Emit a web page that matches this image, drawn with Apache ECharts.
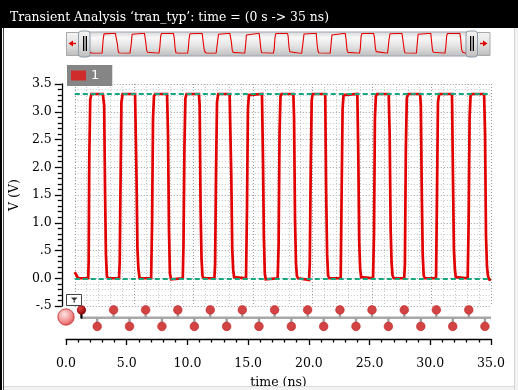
<!DOCTYPE html>
<html><head><meta charset="utf-8">
<script src="https://cdn.jsdelivr.net/npm/echarts@6/dist/echarts.min.js"></script>
<style>html,body{margin:0;padding:0;background:#fff}#c{width:518px;height:390px}</style>
</head><body><div id="c"></div>
<script>
// ---- data ----
const titleText = 'Transient Analysis \u2018tran_typ\u2019: time = (0 s -> 35 ns)';
const seriesName = '1';
const xTicks = [0, 5, 10, 15, 20, 25, 30, 35];
const yTickLabels = {'3.5':'3.5','3':'3.0','2.5':'2.5','2':'2.0','1.5':'1.5','1':'1.0','0.5':'.5','0':'0.0','-0.5':'-.5'};
const refLevels = [3.32, 0];
const waveTime = [
 0.00,0.10,0.18,0.28,
 1.13,1.17,1.22,1.30,1.40,
 2.36,2.40,2.47,2.55,2.62,2.70,2.80,
 3.72,3.78,3.84,3.92,4.02,
 5.07,5.11,5.19,5.27,5.35,5.45,
 6.42,6.50,6.58,6.66,6.76,
 7.76,7.84,7.92,8.00,8.10,8.20,
 9.08,9.14,9.22,9.30,9.40,
 10.44,10.50,10.58,10.66,10.74,10.84,
 11.74,11.80,11.88,11.96,12.06,
 13.02,13.08,13.16,13.24,13.32,13.40,13.50,
 14.40,14.48,14.56,14.64,14.72,
 15.74,15.82,15.90,15.98,16.06,16.14,
 17.06,17.14,17.22,17.30,17.38,
 18.38,18.44,18.52,18.60,18.68,18.78,
 19.70,19.76,19.84,19.92,20.00,
 21.06,21.14,21.22,21.30,21.40,
 22.36,22.44,22.52,22.60,22.70,
 23.76,23.84,23.92,24.00,24.08,24.18,
 25.08,25.16,25.24,25.32,25.42,
 26.40,26.48,26.56,26.64,26.72,26.82,
 27.70,27.76,27.84,27.92,28.02,
 29.04,29.10,29.18,29.26,29.34,29.44,
 30.38,30.46,30.54,30.64,
 31.72,31.80,31.88,31.96,32.04,32.14,
 33.04,33.12,33.20,33.28,33.38,
 34.42,34.50,34.58,34.66,34.74,34.84,35.00
];
const waveVolt = [
 0.11,0.09,0.04,0.00,
 0.00,0.30,2.17,3.22,3.32,
 3.32,3.35,3.12,1.51,0.43,0.04,0.00,
 0.00,0.30,1.55,3.17,3.32,
 3.32,3.33,1.84,0.53,0.17,0.00,
 0.00,1.00,2.89,3.28,3.32,
 3.32,2.59,0.88,0.08,-0.02,0.00,
 0.00,0.59,2.35,3.24,3.32,
 3.32,3.12,1.24,0.34,0.04,0.00,
 0.00,0.25,1.96,3.17,3.32,
 3.32,3.35,1.85,0.53,0.15,0.02,0.00,
 0.00,1.24,3.05,3.30,3.32,
 3.32,2.23,0.75,0.08,-0.02,0.00,
 0.00,0.59,2.65,3.28,3.32,
 3.32,2.89,1.06,0.27,0.04,0.00,
 -0.03,0.25,1.96,3.20,3.32,
 3.32,1.51,0.43,0.05,0.00,
 0.00,1.55,3.05,3.30,3.32,
 3.32,2.23,0.64,0.16,0.02,0.00,
 0.00,0.79,2.89,3.28,3.32,
 3.32,2.59,0.89,0.28,0.05,0.00,
 0.00,0.25,2.33,3.24,3.32,
 3.32,3.12,1.51,0.41,0.05,0.00,
 0.00,1.55,3.17,3.32,
 3.32,1.85,0.53,0.17,0.02,0.00,
 0.00,1.01,2.89,3.28,3.32,
 3.32,2.59,0.76,0.22,0.05,-0.02,-0.03
];
const risingEdges = [1.27, 3.92, 6.56, 9.21, 11.88, 14.52, 17.18, 19.90, 22.56, 25.20, 27.86, 30.50, 33.17];
const fallingEdges = [2.57, 5.23, 7.90, 10.57, 13.23, 15.89, 18.56, 21.22, 23.88, 26.55, 29.22, 31.85, 34.50];

// ---- build ----
const wave = waveTime.map((t, i) => [t, waveVolt[i]]);
const events = risingEdges.map((t, i) => [t, 0, i === 0 ? 1 : 0]).concat(fallingEdges.map(t => [t, 1, 0]));
const ROW_UP = 4, ROW_LINE = 12, ROW_DOWN = 21;
const serif = 'DejaVu Serif';
const chart = echarts.init(document.getElementById('c'), null, {renderer: 'canvas'});

function vgrad(stops) {
  return new echarts.graphic.LinearGradient(0, 0, 0, 1, stops.map((c, i) => ({offset: c[0], color: c[1]})));
}
const btnGrad = () => vgrad([[0, '#f4f4f4'], [0.5, '#e2e2e2'], [1, '#bcbcbc']]);
const bodyGrad = () => vgrad([[0, '#d6d6d6'], [0.25, '#f8f8f8'], [0.55, '#e6e6e6'], [1, '#bdbdbd']]);

const option = {
  animation: false,
  backgroundColor: '#ffffff',
  legend: {
    data: [{name: seriesName, icon: 'rect', itemStyle: {color: '#d02c2c'}}],
    left: 67, top: 65, orient: 'horizontal',
    backgroundColor: '#858585', borderRadius: 0,
    padding: [4, 13, 4, 4], itemWidth: 15, itemHeight: 10,
    textStyle: {color: '#ffffff', fontSize: 13, fontFamily: 'DejaVu Sans'},
    selectedMode: false
  },
  grid: [
    {left: 66, right: 27, top: 84, height: 222},
    {left: 66, right: 27, top: 306, height: 34},
    {left: 90, right: 52, top: 33.3, height: 20}
  ],
  xAxis: [
    {gridIndex: 0, type: 'value', min: 0, max: 35, interval: 5,
     axisLine: {show: false}, axisTick: {show: false}, axisLabel: {show: false},
     splitLine: {show: true, lineStyle: {color: '#9a9a9a', type: [1, 2], width: 1}},
     minorTick: {show: false, splitNumber: 5},
     minorSplitLine: {show: true, lineStyle: {color: '#c4c4c4', type: [1, 2], width: 1}}},
    {gridIndex: 1, type: 'value', min: 0, max: 35, interval: 5,
     axisLine: {show: true, onZero: false, lineStyle: {color: '#000', width: 1.3}},
     axisTick: {show: true, inside: false, length: 6, lineStyle: {color: '#000', width: 1.3}},
     minorTick: {show: true, splitNumber: 5, length: 3.5, lineStyle: {color: '#000', width: 1.3}},
     axisLabel: {show: true, margin: 18, color: '#000', fontSize: 12.5, fontFamily: serif,
       formatter: v => v.toFixed(1)},
     splitLine: {show: false},
     name: 'time (ns)', nameLocation: 'middle', nameGap: 37,
     nameTextStyle: {color: '#000', fontSize: 12.5, fontFamily: serif}},
    {gridIndex: 2, type: 'value', min: 0, max: 35, show: false}
  ],
  yAxis: [
    {gridIndex: 0, type: 'value', min: -0.5, max: 3.5, interval: 0.5, offset: 13,
     axisLine: {show: true, onZero: false, lineStyle: {color: '#000', width: 1.3}},
     axisTick: {show: true, length: 7, lineStyle: {color: '#000', width: 1.3}},
     minorTick: {show: true, splitNumber: 5, length: 4, lineStyle: {color: '#000', width: 1.3}},
     axisLabel: {margin: 10, color: '#000', fontSize: 12.5, fontFamily: serif,
       formatter: v => yTickLabels[String(Math.round(v * 10) / 10)]},
     splitLine: {show: true, lineStyle: {color: '#9a9a9a', type: [1, 2], width: 1}},
     minorSplitLine: {show: true, lineStyle: {color: '#c4c4c4', type: [1, 2], width: 1}},
     name: 'V (V)', nameLocation: 'middle', nameGap: 38,
     nameTextStyle: {color: '#000', fontSize: 12.5, fontFamily: serif}},
    {gridIndex: 1, type: 'value', min: 0, max: 34, inverse: true, show: false},
    {gridIndex: 2, type: 'value', min: 0, max: 3.32, show: false}
  ],
  series: [
    {name: seriesName, type: 'line', xAxisIndex: 0, yAxisIndex: 0, data: wave,
     showSymbol: false, symbol: 'none', z: 3,
     lineStyle: {color: '#e20000', width: 2.7, join: 'miter'}, itemStyle: {color: '#e20000'}},
    {name: 'ref', type: 'line', xAxisIndex: 0, yAxisIndex: 0, data: [], z: 5,
     markLine: {silent: true, symbol: 'none', label: {show: false}, animation: false,
       lineStyle: {color: '#18a67e', type: [5, 3], width: 2},
       data: refLevels.map(v => ({yAxis: v}))}},
    {name: 'busline', type: 'line', xAxisIndex: 1, yAxisIndex: 1, z: 2,
     data: [[risingEdges[0], ROW_LINE], [35, ROW_LINE]], showSymbol: false, symbol: 'none',
     lineStyle: {color: '#a8a8a8', width: 2.5}},
    {name: 'events', type: 'custom', xAxisIndex: 1, yAxisIndex: 1, z: 4, data: events,
     renderItem: function (params, api) {
       const t = api.value(0), dir = api.value(1), first = api.value(2);
       const p = api.coord([t, dir ? ROW_DOWN : ROW_UP]);
       const b = api.coord([t, ROW_LINE]);
       if (first) {
         return {type: 'group', children: [
           {type: 'line', shape: {x1: p[0], y1: p[1], x2: b[0], y2: b[1] + 1}, style: {stroke: '#000', lineWidth: 2.2}},
           {type: 'circle', shape: {cx: p[0], cy: p[1], r: 4.6},
            style: {fill: new echarts.graphic.RadialGradient(0.35, 0.35, 0.7, [{offset: 0, color: '#e04040'}, {offset: 1, color: '#8a0000'}])}}
         ]};
       }
       return {type: 'group', children: [
         {type: 'line', shape: {x1: p[0], y1: p[1], x2: b[0], y2: b[1]}, style: {stroke: '#a0a0a0', lineWidth: 2.4}},
         {type: 'circle', shape: {cx: p[0], cy: p[1], r: 4.3}, style: {fill: '#d24444', stroke: '#c02020', lineWidth: 0.6}}
       ]};
     }},
    {name: 'overview', type: 'line', xAxisIndex: 2, yAxisIndex: 2, data: wave, z: 6,
     showSymbol: false, symbol: 'none', lineStyle: {color: '#e80000', width: 1.1}}
  ],
  graphic: [
    {type: 'rect', shape: {x: 0, y: 0, width: 518, height: 28}, style: {fill: '#000'}, z: 0},
    {type: 'text', x: 10, y: 18, style: {text: titleText, fill: '#fff', font: '12.4px "DejaVu Serif"', textVerticalAlign: 'middle', verticalAlign: 'middle'}, z: 1},
    {type: 'rect', shape: {x: 0, y: 28, width: 2, height: 362}, style: {fill: '#000'}, z: 1},
    {type: 'rect', shape: {x: 3, y: 28, width: 1, height: 362}, style: {fill: '#444'}, z: 1},
    {type: 'rect', shape: {x: 514, y: 28, width: 1, height: 362}, style: {fill: '#d4d4d4'}, z: 1},
    {type: 'rect', shape: {x: 515, y: 28, width: 3, height: 362}, style: {fill: '#f2f2f2'}, z: 1},
    {type: 'rect', shape: {x: 4, y: 386, width: 510, height: 1}, style: {fill: '#dcdcdc'}, z: 1},
    {type: 'rect', shape: {x: 4, y: 387, width: 510, height: 3}, style: {fill: '#f2f2f2'}, z: 1},
    {type: 'rect', shape: {x: 86, y: 32, width: 384, height: 24, r: 3}, style: {fill: bodyGrad(), stroke: '#9aa6b2', lineWidth: 1}, z: 1},
    {type: 'rect', shape: {x: 66.5, y: 32.5, width: 13, height: 23}, style: {fill: btnGrad(), stroke: '#a8a8a8', lineWidth: 1}, z: 2},
    {type: 'polygon', shape: {points: [[68.5, 43.5], [73, 40.5], [73, 46.5]]}, style: {fill: '#e00000'}, z: 3},
    {type: 'rect', shape: {x: 73, y: 42.8, width: 3, height: 1.4}, style: {fill: '#e00000'}, z: 3},
    {type: 'rect', shape: {x: 78.5, y: 31, width: 11.5, height: 26, r: 3}, style: {fill: btnGrad(), stroke: '#8c9aa8', lineWidth: 1}, z: 3},
    {type: 'rect', shape: {x: 83, y: 36, width: 1.3, height: 15}, style: {fill: '#000'}, z: 4},
    {type: 'rect', shape: {x: 85.7, y: 36, width: 1.3, height: 15}, style: {fill: '#000'}, z: 4},
    {type: 'rect', shape: {x: 466, y: 31, width: 11.5, height: 26, r: 3}, style: {fill: btnGrad(), stroke: '#8c9aa8', lineWidth: 1}, z: 3},
    {type: 'rect', shape: {x: 470, y: 36, width: 1.3, height: 15}, style: {fill: '#000'}, z: 4},
    {type: 'rect', shape: {x: 472.7, y: 36, width: 1.3, height: 15}, style: {fill: '#000'}, z: 4},
    {type: 'rect', shape: {x: 477.5, y: 32.5, width: 12.5, height: 23}, style: {fill: btnGrad(), stroke: '#a8a8a8', lineWidth: 1}, z: 2},
    {type: 'polygon', shape: {points: [[487.5, 43.5], [483, 40.5], [483, 46.5]]}, style: {fill: '#e00000'}, z: 3},
    {type: 'rect', shape: {x: 480, y: 42.8, width: 3, height: 1.4}, style: {fill: '#e00000'}, z: 3},
    {type: 'rect', shape: {x: 66.5, y: 294.5, width: 15, height: 11}, style: {fill: '#fff', stroke: '#444', lineWidth: 1}, z: 5},
    {type: 'polygon', shape: {points: [[71, 297.5], [77.5, 297.5], [74.25, 301]]}, style: {fill: '#333'}, z: 6},
    {type: 'rect', shape: {x: 73.6, y: 301, width: 1.3, height: 1.5}, style: {fill: '#333'}, z: 6},
    {type: 'circle', shape: {cx: 66, cy: 317, r: 8.2},
     style: {fill: new echarts.graphic.RadialGradient(0.4, 0.35, 0.75, [{offset: 0, color: '#ffe4e4'}, {offset: 0.6, color: '#f08a8a'}, {offset: 1, color: '#d83a3a'}]), stroke: '#c02828', lineWidth: 0.8}, z: 6}
  ]
};
chart.setOption(option);
</script>
</body></html>
